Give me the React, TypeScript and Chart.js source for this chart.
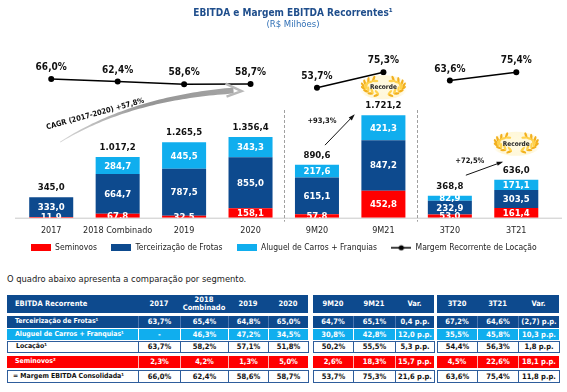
import React, { useEffect, useRef } from 'react';
import { Chart, registerables } from 'chart.js';
Chart.register(...registerables);

const FONT = '"DejaVu Sans Condensed", "DejaVu Sans", sans-serif';
const RED = '#ff0000';
const DARK = '#0d4a8e';
const LIGHT = '#10aeee';
const TBORDER = '#2e5d9c';

// ---------- chart data ----------
const categories = ['2017', '2018 Combinado', '2019', '2020', '9M20', '9M21', '3T20', '3T21'];
const seminovos = [11.9, 67.8, 32.5, 158.1, 57.8, 452.8, 53.0, 161.4];
const terceirizacao = [333.0, 664.7, 787.5, 855.0, 615.1, 847.2, 232.9, 303.5];
const aluguel: (number | null)[] = [null, 284.7, 445.5, 343.3, 217.6, 421.3, 82.9, 171.1];
const totals = [345.0, 1017.2, 1265.5, 1356.4, 890.6, 1721.2, 368.8, 636.0];
const margem = [66.0, 62.4, 58.6, 58.7, 53.7, 75.3, 63.6, 75.4];
const lineBreaksAfter = [3, 5];
const recordeAt = [5, 7];

// ---------- table data ----------
const tableTitle = 'EBITDA Recorrente';
const tableHeaders = ['2017', '2018\nCombinado', '2019', '2020', '9M20', '9M21', 'Var.', '3T20', '3T21', 'Var.'];
const rowLabels = ['Terceirização de Frotas¹', 'Aluguel de Carros + Franquias¹', 'Locação¹', 'Seminovos²', '= Margem EBITDA Consolidada¹'];
const rowTerc = ['63,7%', '65,4%', '64,8%', '65,0%', '64,7%', '65,1%', '0,4 p.p.', '67,2%', '64,6%', '(2,7) p.p.'];
const rowAlug = ['-', '46,3%', '47,2%', '34,5%', '30,8%', '42,8%', '12,0 p.p.', '35,5%', '45,8%', '10,3 p.p.'];
const rowLoc = ['63,7%', '58,2%', '57,1%', '51,8%', '50,2%', '55,5%', '5,3 p.p.', '54,4%', '56,3%', '1,8 p.p.'];
const rowSem = ['2,3%', '4,2%', '1,3%', '5,0%', '2,6%', '18,3%', '15,7 p.p.', '4,5%', '22,6%', '18,1 p.p.'];
const rowMarg = ['66,0%', '62,4%', '58,6%', '58,7%', '53,7%', '75,3%', '21,6 p.p.', '63,6%', '75,4%', '11,8 p.p.'];

function fmt(v: number): string {
  const [i, d] = v.toFixed(1).split('.');
  return i.replace(/\B(?=(\d{3})+(?!\d))/g, '.') + ',' + d;
}
function pct(v: number): string {
  return v.toFixed(1).replace('.', ',') + '%';
}

function drawArrow(ctx: CanvasRenderingContext2D, x0: number, y0: number, x1: number, y1: number) {
  ctx.save();
  ctx.strokeStyle = '#111';
  ctx.fillStyle = '#111';
  ctx.lineWidth = 1;
  ctx.beginPath();
  ctx.moveTo(x0, y0);
  ctx.lineTo(x1, y1);
  ctx.stroke();
  const a = Math.atan2(y1 - y0, x1 - x0);
  ctx.beginPath();
  ctx.moveTo(x1 + Math.cos(a) * 2, y1 + Math.sin(a) * 2);
  ctx.lineTo(x1 + Math.cos(a + 2.7) * 5, y1 + Math.sin(a + 2.7) * 5);
  ctx.lineTo(x1 + Math.cos(a - 2.7) * 5, y1 + Math.sin(a - 2.7) * 5);
  ctx.closePath();
  ctx.fill();
  ctx.restore();
}

function drawBadge(ctx: CanvasRenderingContext2D, cx: number, cy: number) {
  ctx.save();
  const g = ctx.createRadialGradient(cx, cy, 2, cx, cy, 24);
  g.addColorStop(0, 'rgba(255,250,225,1)');
  g.addColorStop(0.7, 'rgba(255,244,205,0.8)');
  g.addColorStop(1, 'rgba(255,244,205,0)');
  ctx.fillStyle = g;
  ctx.beginPath();
  ctx.ellipse(cx, cy, 25, 12, 0, 0, Math.PI * 2);
  ctx.fill();
  const rx = 19, ry = 7.5;
  for (const side of [-1, 1]) {
    for (let k = 0; k < 8; k++) {
      const t = k / 7;
      const ang = Math.PI / 2 + side * (0.25 + t * 2.3);
      const px = cx + Math.cos(ang) * rx;
      const py = cy + Math.sin(ang) * ry;
      const tang = ang + side * Math.PI / 2;
      for (const off of [-0.6, 0.6]) {
        ctx.save();
        ctx.translate(px, py);
        ctx.rotate(tang + off * side);
        ctx.fillStyle = off < 0 ? '#f2b01e' : '#ffd24d';
        ctx.beginPath();
        ctx.ellipse(2.6, 0, 3, 1.2, 0, 0, Math.PI * 2);
        ctx.fill();
        ctx.restore();
      }
    }
  }
  ctx.fillStyle = '#222';
  ctx.font = `bold 6.5px ${FONT}`;
  ctx.textAlign = 'center';
  ctx.textBaseline = 'middle';
  ctx.fillText('Recorde', cx, cy + 0.5);
  ctx.restore();
}

const decoPlugin = {
  id: 'deco',
  afterLayout(chart: any) {
    const shift = 8;
    if (chart.legend) {
      chart.legend.top -= shift;
      chart.legend.bottom -= shift;
    }
  },
  beforeDatasetsDraw(chart: any) {
    const ctx = chart.ctx as CanvasRenderingContext2D;
    const xs = chart.scales.x;
    const area = chart.chartArea;
    ctx.save();
    ctx.strokeStyle = '#c8c8c8';
    ctx.lineWidth = 1;
    ctx.beginPath();
    ctx.moveTo(15, area.bottom + 0.5);
    ctx.lineTo(562, area.bottom + 0.5);
    ctx.stroke();
    ctx.strokeStyle = '#a0a0a0';
    ctx.setLineDash([3, 2]);
    for (const b of lineBreaksAfter) {
      const x = Math.round((xs.getPixelForValue(b) + xs.getPixelForValue(b + 1)) / 2) + 0.5;
      ctx.beginPath();
      ctx.moveTo(x, area.top + 60);
      ctx.lineTo(x, area.bottom + 4);
      ctx.stroke();
    }
    ctx.setLineDash([]);
    ctx.restore();
  },
  afterDatasetsDraw(chart: any) {
    const ctx = chart.ctx as CanvasRenderingContext2D;
    const xs = chart.scales.x;
    const ys = chart.scales.y;
    const y2 = chart.scales.y2;
    const area = chart.chartArea;
    ctx.save();
    ctx.textAlign = 'center';
    ctx.textBaseline = 'middle';
    ctx.save();
    ctx.beginPath();
    ctx.rect(0, 0, chart.width, area.bottom);
    ctx.clip();
    ctx.fillStyle = '#fff';
    ctx.font = `bold 9.5px ${FONT}`;
    for (let d = 0; d < 3; d++) {
      const meta = chart.getDatasetMeta(d);
      const data = chart.data.datasets[d].data;
      meta.data.forEach((el: any, i: number) => {
        const v = data[i];
        if (v == null) return;
        ctx.fillText(fmt(v), el.x, (el.y + el.base) / 2 + 0.5);
      });
    }
    ctx.restore();
    ctx.fillStyle = '#111';
    ctx.font = `bold 9.5px ${FONT}`;
    totals.forEach((t, i) => {
      ctx.fillText(fmt(t), xs.getPixelForValue(i), ys.getPixelForValue(t) - 9.5);
    });
    ctx.font = `bold 10px ${FONT}`;
    margem.forEach((m, i) => {
      ctx.fillText(pct(m), xs.getPixelForValue(i), y2.getPixelForValue(m) - 11.5);
    });

    // CAGR sweep
    const x0 = xs.getPixelForValue(0);
    const x3 = xs.getPixelForValue(3);
    const yl = y2.getPixelForValue(margem[3]);
    const p0 = { x: x0 + 9, y: yl + 58 };
    const p1 = { x: x0 + 79, y: yl + 14 };
    const p2 = { x: x3 - 17, y: yl + 6.5 };
    const L: number[][] = [];
    const R: number[][] = [];
    const N = 50;
    for (let k = 0; k <= N; k++) {
      const t = k / N;
      const x = (1 - t) * (1 - t) * p0.x + 2 * (1 - t) * t * p1.x + t * t * p2.x;
      const y = (1 - t) * (1 - t) * p0.y + 2 * (1 - t) * t * p1.y + t * t * p2.y;
      const dx = 2 * (1 - t) * (p1.x - p0.x) + 2 * t * (p2.x - p1.x);
      const dy = 2 * (1 - t) * (p1.y - p0.y) + 2 * t * (p2.y - p1.y);
      const len = Math.hypot(dx, dy);
      const nx = -dy / len, ny = dx / len;
      const w = 0.4 + 2.6 * t;
      L.push([x + nx * w, y + ny * w]);
      R.push([x - nx * w, y - ny * w]);
    }
    const grad = ctx.createLinearGradient(p0.x, 0, p2.x, 0);
    grad.addColorStop(0, '#d6d6d6');
    grad.addColorStop(0.5, '#959595');
    grad.addColorStop(1, '#a4a4a4');
    ctx.fillStyle = grad;
    ctx.beginPath();
    L.forEach((p, i) => (i ? ctx.lineTo(p[0], p[1]) : ctx.moveTo(p[0], p[1])));
    R.reverse().forEach((p) => ctx.lineTo(p[0], p[1]));
    ctx.closePath();
    ctx.fill();
    ctx.strokeStyle = '#b8b8b8';
    ctx.lineWidth = 2.5;
    ctx.lineJoin = 'miter';
    ctx.beginPath();
    ctx.moveTo(p2.x - 8, p2.y - 7);
    ctx.lineTo(p2.x + 8, p2.y + 0.5);
    ctx.lineTo(p2.x - 7, p2.y + 6);
    ctx.stroke();
    ctx.save();
    ctx.translate(x0 + 44, yl + 30);
    ctx.rotate(-0.27);
    ctx.fillStyle = '#111';
    ctx.font = `bold 7.5px ${FONT}`;
    ctx.fillText('CAGR (2017-2020) +57,8%', 0, 0);
    ctx.restore();

    const x4 = xs.getPixelForValue(4), x5 = xs.getPixelForValue(5);
    const x6 = xs.getPixelForValue(6), x7 = xs.getPixelForValue(7);
    const t4 = ys.getPixelForValue(totals[4]) - 9.5;
    const t5 = ys.getPixelForValue(totals[5]) - 9.5;
    drawArrow(ctx, x4 + 8, t4 - 10, x5 - 30, t5 + 10);
    const t6 = ys.getPixelForValue(totals[6]) - 9.5;
    const t7 = ys.getPixelForValue(totals[7]) - 9.5;
    drawArrow(ctx, x6 + 16, t6 - 11, x7 - 15, t7 - 8);
    ctx.fillStyle = '#111';
    ctx.font = `bold 7.5px ${FONT}`;
    ctx.fillText('+93,3%', x4 + 5, t5 + 15.5);
    ctx.fillText('+72,5%', x6 + 20, t7 - 9.5);

    drawBadge(ctx, xs.getPixelForValue(recordeAt[0]), ys.getPixelForValue(totals[recordeAt[0]]) - 28);
    drawBadge(ctx, xs.getPixelForValue(recordeAt[1]), ys.getPixelForValue(totals[recordeAt[1]]) - 36);
    ctx.restore();
  },
};

function mkIcon(w: number, h: number, draw: (c: CanvasRenderingContext2D) => void) {
  const c = document.createElement('canvas');
  c.width = w;
  c.height = h;
  draw(c.getContext('2d') as CanvasRenderingContext2D);
  return c;
}

const colEdges: [number, number][] = [
  [7, 138], [138, 180], [180, 228], [228, 268], [268, 308],
  [313, 353], [353, 395], [395, 434],
  [437, 477], [477, 518], [518, 559],
];
const colGroup = [0, 0, 0, 0, 0, 1, 1, 1, 2, 2, 2];

type RowStyle = { top: number; h: number; bg: string; color: string; sep: string | null; boxed: boolean };

function TableRow({ cells, st, header }: { cells: string[]; st: RowStyle; header?: boolean }) {
  return (
    <>
      {cells.map((txt, c) => {
        const [x0, x1] = colEdges[c];
        const firstInGroup = c === 0 || colGroup[c - 1] !== colGroup[c];
        const lastInGroup = c === colEdges.length - 1 || colGroup[c + 1] !== colGroup[c];
        const style: React.CSSProperties = {
          position: 'absolute',
          left: x0,
          top: st.top,
          width: x1 - x0 + (st.boxed && lastInGroup ? 1 : 0),
          height: st.h,
          boxSizing: 'border-box',
          background: st.bg,
          color: st.color,
          display: 'flex',
          alignItems: 'center',
          justifyContent: c === 0 ? 'flex-start' : 'center',
          paddingLeft: c === 0 ? (txt.startsWith('=') ? 5 : 8) : 0,
          fontWeight: 'bold',
          fontSize: c === 0 && !header ? 6.9 : 7.5,
          lineHeight: header ? '8.5px' : '9px',
          textAlign: 'center',
          whiteSpace: 'pre-line',
          fontFamily: FONT,
        };
        if (st.boxed) {
          style.border = `1px solid ${TBORDER}`;
          if (!lastInGroup) style.borderRight = 'none';
        } else if (st.sep && !firstInGroup) {
          style.borderLeft = `1px solid ${st.sep}`;
        }
        return (
          <div key={c} style={style}>
            {txt}
          </div>
        );
      })}
    </>
  );
}

const legendGap = '   ';

export default function App() {
  const ref = useRef<HTMLCanvasElement>(null);
  useEffect(() => {
    const icons = [
      mkIcon(20, 7, (c) => { c.fillStyle = RED; c.fillRect(0, 0, 20, 7); }),
      mkIcon(20, 7, (c) => { c.fillStyle = DARK; c.fillRect(0, 0, 20, 7); }),
      mkIcon(20, 7, (c) => { c.fillStyle = LIGHT; c.fillRect(0, 0, 20, 7); }),
      mkIcon(20, 8, (c) => {
        c.strokeStyle = '#000'; c.lineWidth = 1.5;
        c.beginPath(); c.moveTo(0, 4); c.lineTo(20, 4); c.stroke();
        c.fillStyle = '#000'; c.beginPath(); c.arc(10, 4, 2.6, 0, Math.PI * 2); c.fill();
      }),
    ];
    const chart = new Chart(ref.current as HTMLCanvasElement, {
      type: 'bar',
      data: {
        labels: categories,
        datasets: [
          { type: 'bar', label: 'Seminovos', data: seminovos, backgroundColor: RED, barPercentage: 0.6626, categoryPercentage: 1 },
          { type: 'bar', label: 'Terceirização de Frotas', data: terceirizacao, backgroundColor: DARK, barPercentage: 0.6626, categoryPercentage: 1 },
          { type: 'bar', label: 'Aluguel de Carros + Franquias', data: aluguel, backgroundColor: LIGHT, barPercentage: 0.6626, categoryPercentage: 1 },
          {
            type: 'line', label: 'Margem Recorrente de Locação', data: margem, yAxisID: 'y2',
            borderColor: '#000', backgroundColor: '#000', borderWidth: 1.5,
            pointRadius: 3, pointBackgroundColor: '#000', pointBorderWidth: 0,
            segment: { borderColor: (c: any) => (lineBreaksAfter.includes(c.p0DataIndex) ? 'rgba(0,0,0,0)' : '#000') },
          } as any,
        ],
      },
      options: {
        responsive: false,
        animation: false,
        layout: { padding: { top: 50, left: 18, right: 17.5, bottom: 0 } },
        plugins: {
          tooltip: { enabled: false },
          legend: {
            position: 'bottom',
            labels: {
              usePointStyle: true,
              pointStyleWidth: 20,
              boxHeight: 7,
              padding: 7,
              color: '#222',
              font: { family: FONT, size: 8.5 },
              generateLabels: (ch: any) =>
                ch.data.datasets.map((ds: any, i: number) => ({
                  text: i < ch.data.datasets.length - 1 ? ds.label + legendGap : ds.label,
                  pointStyle: icons[i],
                  fillStyle: 'rgba(0,0,0,0)',
                  strokeStyle: 'rgba(0,0,0,0)',
                  lineWidth: 0,
                  hidden: false,
                  datasetIndex: i,
                  fontColor: '#222',
                })),
            },
          },
        },
        scales: {
          x: {
            stacked: true,
            grid: { display: false, drawTicks: false },
            border: { display: false },
            ticks: { padding: 8, color: '#262626', font: { family: FONT, size: 9 }, autoSkip: false, maxRotation: 0 },
          },
          y: { stacked: true, display: false, min: 0, max: 2815 },
          y2: { display: false, min: -129, max: 106.6 },
        },
      } as any,
      plugins: [decoPlugin],
    });
    return () => chart.destroy();
  }, []);

  const rows: { cells: string[]; st: RowStyle }[] = [
    { cells: [rowLabels[0], ...rowTerc], st: { top: 315.5, h: 12, bg: DARK, color: '#fff', sep: '#4b78b2', boxed: false } },
    { cells: [rowLabels[1], ...rowAlug], st: { top: 328.5, h: 11.5, bg: LIGHT, color: '#fff', sep: '#ffffff', boxed: false } },
    { cells: [rowLabels[2], ...rowLoc], st: { top: 340.5, h: 12.5, bg: '#fff', color: '#111', sep: null, boxed: true } },
    { cells: [rowLabels[3], ...rowSem], st: { top: 355.5, h: 12, bg: RED, color: '#fff', sep: '#ffb0b0', boxed: false } },
    { cells: [rowLabels[4], ...rowMarg], st: { top: 370, h: 12.5, bg: '#fff', color: '#111', sep: null, boxed: true } },
  ];

  return (
    <div style={{ position: 'fixed', left: 0, top: 0, width: 567, height: 392, background: '#fff', fontFamily: FONT, overflow: 'hidden' }}>
      <canvas ref={ref} width={567} height={270} style={{ position: 'absolute', left: 0, top: 0, width: 567, height: 270 }} />
      <div style={{ position: 'absolute', left: 143, top: 7, width: 300, textAlign: 'center', fontWeight: 'bold', fontSize: 10, lineHeight: '12px', color: '#1f4e8c' }}>
        EBITDA e Margem EBITDA Recorrentes¹
      </div>
      <div style={{ position: 'absolute', left: 143, top: 18, width: 300, textAlign: 'center', fontSize: 9.5, lineHeight: '12px', color: '#2f6fb5' }}>
        (R$ Milhões)
      </div>
      <div style={{ position: 'absolute', left: 7, top: 273, fontSize: 9.3, lineHeight: '12px', color: '#1a1a1a', whiteSpace: 'nowrap' }}>
        O quadro abaixo apresenta a comparação por segmento.
      </div>
      <TableRow header cells={[tableTitle, ...tableHeaders]} st={{ top: 295, h: 18, bg: DARK, color: '#fff', sep: null, boxed: false }} />
      {rows.map((r, i) => (
        <TableRow key={i} cells={r.cells} st={r.st} />
      ))}
    </div>
  );
}
